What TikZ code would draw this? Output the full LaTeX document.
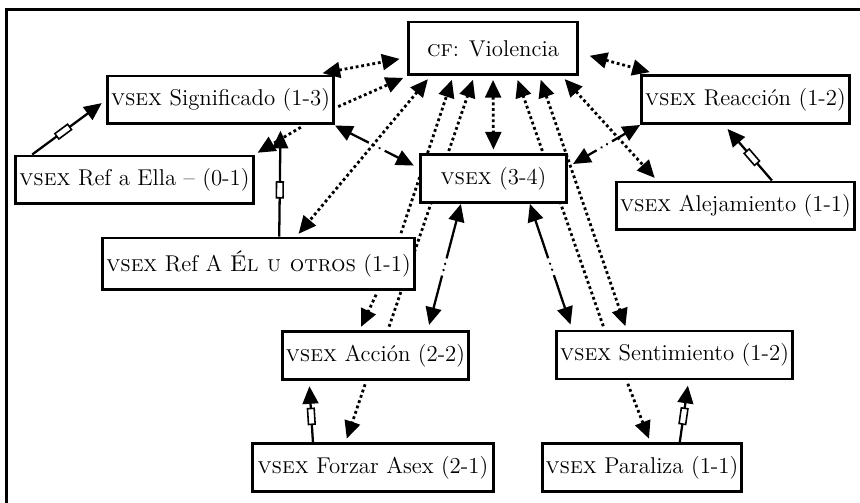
\documentclass[tikz,border=0pt]{standalone}
\usepackage{fontspec}
\usetikzlibrary{arrows.meta,backgrounds,decorations.markings}
\tikzset{
  >={Triangle[length=10pt,width=9pt]},
  code/.style={draw, line width=1.7pt, fill=white, minimum height=0.96cm, inner sep=2pt,
    font=\fontsize{13}{15}\selectfont},
  link/.style={line width=1.3pt, shorten >=3pt},
  dots/.style={line width=1.6pt, dash pattern=on 1.6pt off 1.6pt, shorten >=2pt, shorten <=2pt},
  boxed/.style={postaction={decorate}, decoration={markings, mark=at position 0.42 with
    {\draw[line width=0.9pt, fill=white, solid] (-4.5pt,-1.9pt) rectangle (4.5pt,1.9pt);}}},
  gapped/.style={postaction={decorate}, decoration={markings, mark=at position 0.5 with
    {\fill[white] (-5pt,-2.2pt) rectangle (5pt,2.2pt);
     \fill (-1.8pt,0) circle (0.75pt) (1.8pt,0) circle (0.75pt);}}}
}
\begin{document}
\begin{tikzpicture}[x=0.02cm,y=-0.02cm]
  \useasboundingbox (0,0) rectangle (860,503);
  \draw[line width=1.5pt] (6.2,503) -- (6.2,9.5) -- (860,9.5);

  \node[code, minimum width=3.4cm, minimum height=1.06cm] (vio) at (493,48.5) {\textsc{cf}: Violencia};
  \node[code, minimum width=4.5cm] (sig) at (220.5,100) {\textsc{vsex} Significado (1-3)};
  \node[code, minimum width=4.1cm] (rea) at (745.5,99.5) {\textsc{vsex} Reacción (1-2)};
  \node[code, minimum width=4.58cm] (ella) at (134.5,180) {\textsc{vsex} Ref a Ella -- (0-1)};
  \node[code, minimum width=2.94cm] (vsx) at (493.5,178.5) {\textsc{vsex} (3-4)};
  \node[code, minimum width=4.7cm] (ale) at (735.5,206) {\textsc{vsex} Alejamiento (1-1)};
  \node[code, minimum width=5.74cm, minimum height=1.04cm] (el) at (258.5,264) {\textsc{vsex} Ref A \textsc{Él u otros} (1-1)};
  \node[code, minimum width=3.74cm] (acc) at (375.5,355.5) {\textsc{vsex} Acción (2-2)};
  \node[code, minimum width=4.74cm] (sen) at (674.5,355) {\textsc{vsex} Sentimiento (1-2)};
  \node[code, minimum width=4.84cm] (frz) at (373,467.5) {\textsc{vsex} Forzar Asex (2-1)};
  \node[code, minimum width=3.96cm] (par) at (642,467.5) {\textsc{vsex} Paraliza (1-1)};

  \begin{pgfonlayer}{background}
  \draw[link, gapped, <->] (sig.south east) -- (vsx.172);
  \draw[link, gapped, <->] (rea.south west) -- (vsx.9);
  \draw[link, gapped, <->] (vsx.218) -- (acc.26);
  \draw[link, gapped, <->] (vsx.325) -- (sen.166);

  \draw[link, boxed, ->] (ella.166) -- (sig.west);
  \draw[link, boxed, ->] (el.53) -- (sig.-23);
  \draw[link, boxed, ->] (ale.35) -- (rea.230);
  \draw[link, boxed, ->] (frz.157) -- (acc.201);
  \draw[link, boxed, ->] (par.34) -- (sen.299);

  \draw[dots, <->, shorten >=4pt, shorten <=4pt] (sig.15) -- (vio.186);
  \draw[dots, <->, shorten >=4pt, shorten <=6pt] (vio.-3) -- (rea.164);
  \draw[dots, ->] (sig.-4) -- (vio.south west);
  \draw[dots, ->] (sig.-17) -- (ella.north east);
  \draw[dots, <->] (vio.204) -- (el.36);
  \draw[dots, ->] (el.11) -- (vio.215);
  \draw[dots, ->] (acc.64) -- (vio.236);
  \draw[dots, ->] (sen.160) -- (vio.310);
  \draw[dots, <->] (vio.329) -- (sen.152);
  \draw[dots, <->] (vio.south) -- (vsx.north);
  \draw[dots, <->] (vio.338) -- (ale.162);
  \draw[dots, ->] (el.347) -- (acc.122);
  \draw[dots, ->] (acc.250) -- (frz.137);
  \draw[dots, ->] (sen.208) -- (par.72);
  \end{pgfonlayer}
\end{tikzpicture}
\end{document}
